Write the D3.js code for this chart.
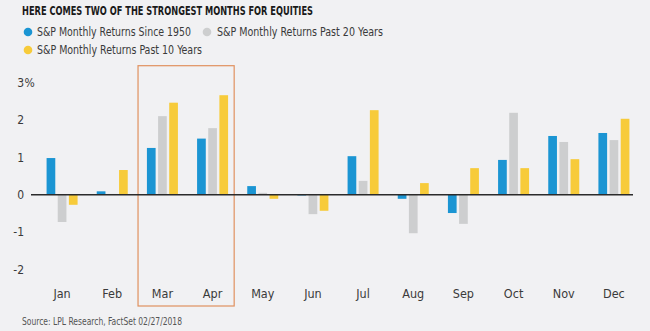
<!DOCTYPE html>
<html><head><meta charset="utf-8">
<script src="https://cdn.jsdelivr.net/npm/d3@7"></script>
<style>
html,body{margin:0;padding:0;background:#f1f1f3;}
svg{display:block;}
</style></head>
<body>
<svg id="c" width="650" height="331"></svg>
<script>
const months = ["Jan","Feb","Mar","Apr","May","Jun","Jul","Aug","Sep","Oct","Nov","Dec"];
const since1950 = [0.98, 0.09, 1.25, 1.50, 0.23, -0.02, 1.03, -0.11, -0.49, 0.93, 1.57, 1.65];
const past20 = [-0.73, 0.02, 2.10, 1.78, 0.05, -0.52, 0.37, -1.03, -0.78, 2.19, 1.41, 1.46];
const past10 = [-0.27, 0.66, 2.46, 2.66, -0.11, -0.43, 2.26, 0.31, 0.71, 0.71, 0.95, 2.03];
const seriesNames = ["S&P Monthly Returns Since 1950","S&P Monthly Returns Past 20 Years","S&P Monthly Returns Past 10 Years"];
const yTicks = [-2,-1,0,1,2,3];
const highlighted = ["Mar","Apr"];
const title = "HERE COMES TWO OF THE STRONGEST MONTHS FOR EQUITIES";
const source = "Source: LPL Research, FactSet 02/27/2018";

const colors = ["#1b95d3","#cdcecf","#f7cb3a"];
const series = [since1950, past20, past10];
const svg = d3.select("#c");
const font = "'Liberation Sans Narrow','DejaVu Sans Condensed','Roboto Condensed',Arial,sans-serif";

const x = d3.scaleBand().domain(months).range([37, 639]).paddingInner(0).paddingOuter(0);
const y = d3.scaleLinear().domain([-2, 3]).range([269.5, 82.5]);
const sub = d3.scaleBand().domain([0,1,2]).range([x.bandwidth()/2 - 15.5, x.bandwidth()/2 + 15.5]).paddingInner(0.22);

// title
svg.append("text").attr("x", 22).attr("y", 14.5)
  .attr("font-family", font).attr("font-weight", "bold").attr("font-size", 13)
  .attr("fill", "#1a1a1a").attr("textLength", 291).attr("lengthAdjust", "spacingAndGlyphs")
  .text(title);

// legend
const legPos = [[28,32,37,154],[207,32,217,166],[28,50,37,165]];
seriesNames.forEach((n,i) => {
  const [cx, cy, tx, tw] = legPos[i];
  svg.append("circle").attr("cx", cx).attr("cy", cy).attr("r", 4.3).attr("fill", colors[i]);
  svg.append("text").attr("x", tx).attr("y", cy + 4.3)
    .attr("font-family", font).attr("font-size", 12.5).attr("fill", "#3a3a3a")
    .attr("textLength", tw).attr("lengthAdjust", "spacingAndGlyphs").text(n);
});

// highlight box
const hx0 = x(highlighted[0]) + 0.7;
const hx1 = x(highlighted[highlighted.length-1]) + x.bandwidth() - 3.5;
svg.append("rect").attr("x", hx0).attr("y", 65.7).attr("width", hx1 - hx0).attr("height", 240.3)
  .attr("fill", "none").attr("stroke", "#e0915f").attr("stroke-width", 1.2);

// y axis labels
yTicks.forEach(t => {
  svg.append("text").attr("x", 24).attr("y", y(t) + 4.2).attr("text-anchor", "end")
    .attr("font-family", font).attr("font-size", 12).attr("fill", "#3a3a3a").text(t);
  if (t === 3) {
    svg.append("text").attr("x", 24.5).attr("y", y(t) + 4.2)
      .attr("font-family", font).attr("font-size", 12).attr("fill", "#3a3a3a").text("%");
  }
});

// bars
series.forEach((vals, si) => {
  svg.append("g").selectAll("rect").data(vals).join("rect")
    .attr("x", (d, i) => x(months[i]) + sub(si))
    .attr("width", sub.bandwidth())
    .attr("y", d => y(Math.max(0, d)))
    .attr("height", d => Math.abs(y(d) - y(0)))
    .attr("fill", colors[si]);
});

// zero line
svg.append("line").attr("x1", 31).attr("x2", 633).attr("y1", y(0)).attr("y2", y(0))
  .attr("stroke", "#2b2b2b").attr("stroke-width", 1.4);

// x axis labels
svg.append("g").selectAll("text").data(months).join("text")
  .attr("x", d => x(d) + x.bandwidth()/2).attr("y", 297.5).attr("text-anchor", "middle")
  .attr("font-family", font).attr("font-size", 12.5).attr("fill", "#3a3a3a").text(d => d);

// source
svg.append("text").attr("x", 22).attr("y", 324.5)
  .attr("font-family", font).attr("font-size", 10.5).attr("fill", "#555")
  .attr("textLength", 160).attr("lengthAdjust", "spacingAndGlyphs").text(source);
</script>
</body></html>
